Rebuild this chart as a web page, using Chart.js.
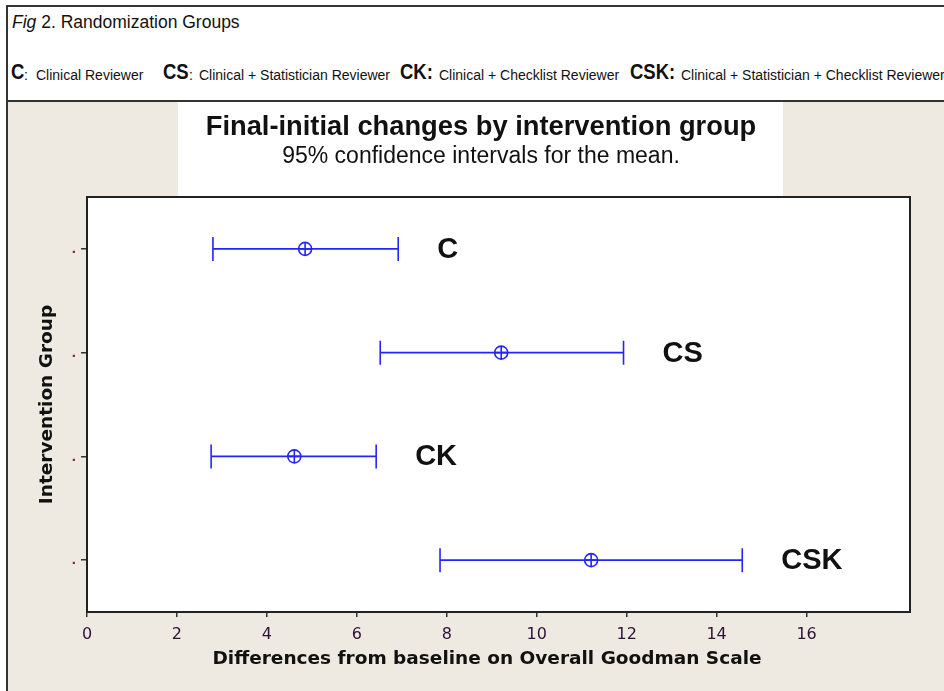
<!DOCTYPE html>
<html><head><meta charset="utf-8">
<script src="https://cdn.jsdelivr.net/npm/chart.js@4/dist/chart.umd.min.js"></script>
<style>
html,body{margin:0;padding:0;background:#fff;}
#wrap{position:relative;width:944px;height:691px;overflow:hidden;}
#c{position:absolute;left:0;top:0;}
#hdr{position:absolute;left:0;top:0;width:944px;height:100px;background:#fff;font-family:"Liberation Sans",Arial,sans-serif;color:#111;}
#vline{position:absolute;left:6px;top:5px;width:2px;height:686px;background:#333;}
#tline{position:absolute;left:6px;top:5px;width:938px;height:2px;background:#333;}
#bline{position:absolute;left:6px;top:100px;width:938px;height:2px;background:#333;}
.t{position:absolute;white-space:nowrap;line-height:1;}
.s{font-size:14px;}
.b{font-size:22px;font-weight:bold;transform:scaleX(0.84);transform-origin:0 0;display:inline-block;}
</style></head>
<body>
<div id="wrap">
<canvas id="c" width="944" height="691"></canvas>
<div id="hdr">
  <span class="t" style="left:12px;top:14px;font-size:17.5px;"><i>Fig</i> 2. Randomization Groups</span>
  <span class="t b" style="left:11px;top:61px;">C</span><span class="t s" style="left:24px;top:68px;">:</span>
  <span class="t s" style="left:36px;top:68px;">Clinical Reviewer</span>
  <span class="t b" style="left:163px;top:61px;">CS</span><span class="t s" style="left:189px;top:68px;">:</span>
  <span class="t s" style="left:199px;top:68px;">Clinical + Statistician Reviewer</span>
  <span class="t b" style="left:400px;top:61px;">CK:</span>
  <span class="t s" style="left:439px;top:68px;">Clinical + Checklist Reviewer</span>
  <span class="t b" style="left:630px;top:61px;">CSK:</span>
  <span class="t s" style="left:681px;top:68px;">Clinical + Statistician + Checklist Reviewer</span>
</div>
<div id="tline"></div><div id="bline"></div><div id="vline"></div>
</div>
<script>
const categories = ['C', 'CS', 'CK', 'CSK'];
const ciLow  = [2.80, 6.52, 2.76, 7.85];
const means  = [4.85, 9.21, 4.61, 11.21];
const ciHigh = [6.92, 11.93, 6.43, 14.57];
const xTicks = [0, 2, 4, 6, 8, 10, 12, 14, 16];
const xMax = 18.3;
const chartTitle = 'Final-initial changes by intervention group';
const chartSubtitle = '95% confidence intervals for the mean.';
const xTitle = 'Differences from baseline on Overall Goodman Scale';
const yTitle = 'Intervention Group';

const BLUE = '#2424ff';
const BEIGE = '#eeeae1';
const TICKC = '#2e1238';

const barSets = categories.map((c, i) => ({
  type: 'scatter',
  data: [{x: ciLow[i], y: c}, {x: ciHigh[i], y: c}],
  showLine: true, borderColor: BLUE, borderWidth: 1.6,
  pointStyle: 'line', rotation: 90, pointRadius: 12, pointHoverRadius: 12,
  pointBorderColor: BLUE, pointBorderWidth: 1.6, fill: false
}));
const meanPts = categories.map((c, i) => ({x: means[i], y: c}));
const circleSet = {type: 'scatter', data: meanPts, pointStyle: 'circle', pointRadius: 6.5,
  pointBorderColor: BLUE, pointBackgroundColor: 'rgba(0,0,0,0)', pointBorderWidth: 1.6, showLine: false};
const crossSet = {type: 'scatter', data: meanPts, pointStyle: 'cross', pointRadius: 6.5,
  pointBorderColor: BLUE, pointBorderWidth: 1.6, showLine: false};

const deco = {
  id: 'deco',
  beforeDraw(chart) {
    const {ctx, chartArea: a} = chart;
    ctx.save();
    ctx.fillStyle = BEIGE; ctx.fillRect(8, 102, 936, 589);
    ctx.fillStyle = '#fff'; ctx.fillRect(178, 102, 605, a.top - 102);
    ctx.fillRect(a.left, a.top, a.right - a.left, a.bottom - a.top);
    ctx.fillStyle = '#111'; ctx.textAlign = 'center'; ctx.textBaseline = 'middle';
    ctx.font = 'bold 27.3px "Liberation Sans", Arial, sans-serif';
    ctx.fillText(chartTitle, 481, 127);
    ctx.font = '23px "Liberation Sans", Arial, sans-serif';
    ctx.fillText(chartSubtitle, 481, 157);
    ctx.font = 'bold 18.5px "DejaVu Sans", Verdana, sans-serif';
    ctx.fillText(xTitle, 487, 659);
    ctx.translate(47, (a.top + a.bottom) / 2); ctx.rotate(-Math.PI / 2);
    ctx.fillText(yTitle, 0, 0);
    ctx.restore();
  },
  afterDatasetsDraw(chart) {
    const {ctx, scales: {x, y}, chartArea: a} = chart;
    ctx.save();
    ctx.strokeStyle = '#222'; ctx.lineWidth = 2;
    ctx.strokeRect(a.left, a.top, a.right - a.left, a.bottom - a.top);
    ctx.fillStyle = '#111'; ctx.textAlign = 'left'; ctx.textBaseline = 'middle';
    ctx.font = 'bold 29px "Liberation Sans", Arial, sans-serif';
    categories.forEach((c, i) => {
      ctx.fillText(c, x.getPixelForValue(ciHigh[i]) + 39, y.getPixelForValue(i) + 1);
    });
    ctx.restore();
  }
};

new Chart(document.getElementById('c'), {
  type: 'scatter',
  data: {datasets: [...barSets, circleSet, crossSet]},
  options: {
    responsive: false, animation: false, devicePixelRatio: 1,
    layout: {padding: {left: 0, top: 197, right: 34, bottom: 0}},
    plugins: {legend: {display: false}, tooltip: {enabled: false}, title: {display: false}},
    scales: {
      x: {
        type: 'linear', min: 0, max: xMax,
        afterBuildTicks: s => { s.ticks = xTicks.map(v => ({value: v})); },
        afterFit: s => { s.height = 79; },
        grid: {drawOnChartArea: false, drawTicks: true, tickLength: 5, color: '#333', lineWidth: 1.5},
        border: {display: false},
        ticks: {font: {family: '"DejaVu Sans", Verdana, sans-serif', size: 16}, color: TICKC, padding: 8, maxRotation: 0, autoSkip: false}
      },
      y: {
        type: 'category', labels: categories, offset: true,
        afterFit: s => { s.width = 87; },
        grid: {drawOnChartArea: false, drawTicks: true, tickLength: 6, color: '#333', lineWidth: 1.5, offset: false},
        border: {display: false},
        ticks: {callback: () => '.', color: '#8b1a4a', font: {size: 15, weight: 'bold'}, padding: 5}
      }
    }
  },
  plugins: [deco]
});
</script>
</body></html>
